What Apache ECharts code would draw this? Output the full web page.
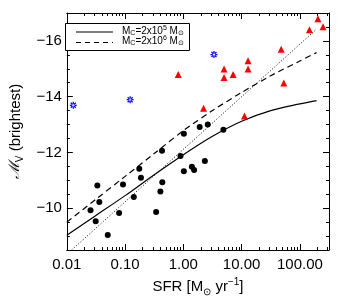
<!DOCTYPE html>
<html>
<head>
<meta charset="utf-8">
<script src="https://cdn.jsdelivr.net/npm/echarts@6/dist/echarts.min.js"></script>
<style>html,body{margin:0;padding:0;background:#fff}#c{width:354px;height:304px}</style>
</head>
<body>
<div id="c"></div>
<script>
// ---- data ----
const circleX = [0.0255,0.0313,0.0334,0.0361,0.0504,0.0789,0.092,0.141,0.175,0.187,0.341,0.403,0.435,0.430,0.893,1.02,1.02,1.40,1.53,1.905,2.34,2.62,4.86];
const circleY = [-9.93,-9.53,-10.81,-10.22,-9.04,-9.83,-10.85,-10.40,-11.41,-11.09,-9.86,-10.60,-10.93,-12.06,-11.87,-12.67,-11.32,-11.49,-11.37,-12.91,-11.69,-13.0,-12.81];
const triX = [0.817,2.22,4.99,4.99,7.14,11.2,12.9,12.9,47.8,53,146,204,250];
const triY = [-14.79,-13.58,-14.99,-14.69,-14.79,-13.31,-15.29,-14.99,-15.70,-14.49,-16.40,-16.79,-16.51];
const starX = [0.0129,0.122,3.35];
const starY = [-13.69,-13.89,-15.51];
const curveX = [0.01,0.0316,0.1,0.316,1,3.16,10,31.6,100,193];
const solidY = [-9.03,-9.74,-10.45,-11.20,-11.92,-12.58,-13.12,-13.50,-13.74,-13.86];
const dashedY = [-9.50,-10.32,-11.14,-11.96,-12.78,-13.50,-14.15,-14.75,-15.28,-15.58];
const dottedX = [0.0121,193];
const dottedY = [-8.5,-16.42];
const xTickLabels = ['0.01','0.10','1.00','10.00','100.00'];
const yTickLabels = ['−16','−14','−12','−10'];
const legendLabels = ['{n|M}{b|C}{n|=2x10}{t|5}{n| M}{b|⊙}', '{n|M}{b|C}{n|=2x10}{t|6}{n| M}{b|⊙}'];

const zip = (a, b) => a.map((v, i) => [v, b[i]]);
const FONT = "'Liberation Sans', Arial, Helvetica, sans-serif";

const chart = echarts.init(document.getElementById('c'), null, {renderer: 'canvas'});

const baseX = {
  type: 'log', logBase: 10, min: 0.01, max: 316,
  axisLine: {onZero: false, lineStyle: {color: '#000', width: 1}},
  axisTick: {inside: true, length: 6, lineStyle: {color: '#000', width: 1}},
  minorTick: {show: true, splitNumber: 9, length: 3, lineStyle: {color: '#000', width: 1}},
  splitLine: {show: false}, minorSplitLine: {show: false}
};
const baseY = {
  type: 'value', inverse: true, min: -17, max: -8.5,
  axisLine: {onZero: false, lineStyle: {color: '#000', width: 1}},
  axisTick: {inside: true, length: 6, lineStyle: {color: '#000', width: 1}},
  minorTick: {show: true, splitNumber: 4, length: 3, lineStyle: {color: '#000', width: 1}},
  splitLine: {show: false}
};

const xLabelFor = v => {
  const e = Math.round(Math.log10(v));
  if (Math.abs(Math.log10(v) - e) > 1e-6) return '';
  return xTickLabels[e + 2] || '';
};
const yLabelFor = v => {
  const map = {'-16': 0, '-14': 1, '-12': 2, '-10': 3};
  const k = String(Math.round(v * 1000) / 1000);
  return (k in map) ? yTickLabels[map[k]] : '';
};

const rich = {
  n: {fontSize: 15, fontFamily: FONT, color: '#000', lineHeight: 20},
  b: {fontSize: 10, fontFamily: FONT, color: '#000', lineHeight: 10, verticalAlign: 'bottom'},
  t: {fontSize: 10, fontFamily: FONT, color: '#000', lineHeight: 10, verticalAlign: 'top'},
  m: {fontSize: 15, fontFamily: "'DejaVu Serif', serif", fontStyle: 'italic', color: '#000', lineHeight: 20}
};

const starPath = 'path://M-0.9,-5 L0.9,-5 L0.9,5 L-0.9,5 Z M-5,-0.9 L5,-0.9 L5,0.9 L-5,0.9 Z M-4.2,-2.9 L2.9,4.2 L4.2,2.9 L-2.9,-4.2 Z M2.9,-4.2 L-4.2,2.9 L-2.9,4.2 L4.2,-2.9 Z';

const legendRich = {
  n: {fontSize: 10, fontFamily: FONT, fill: '#000', lineHeight: 12},
  b: {fontSize: 7, fontFamily: FONT, fill: '#000', lineHeight: 6, verticalAlign: 'bottom'},
  t: {fontSize: 7, fontFamily: FONT, fill: '#000', lineHeight: 6, verticalAlign: 'top'}
};

const option = {
  animation: false,
  backgroundColor: '#fff',
  grid: {left: 59, right: 25, top: 13, bottom: 54},
  xAxis: [
    Object.assign({}, baseX, {
      position: 'bottom',
      axisLabel: {show: true, margin: 7, color: '#000', fontSize: 15, fontFamily: FONT, formatter: xLabelFor, showMinLabel: true, showMaxLabel: false},
      name: '{n|SFR [M}{b|⊙}{n| yr}{t|−1}{n|]}',
      nameLocation: 'middle', nameGap: 20,
      nameTextStyle: {rich: rich}
    }),
    Object.assign({}, baseX, {position: 'top', axisLabel: {show: false}})
  ],
  yAxis: [
    Object.assign({}, baseY, {
      position: 'left',
      axisLabel: {show: true, margin: 5, color: '#000', fontSize: 15, fontFamily: FONT, formatter: yLabelFor},
      name: '{m|ℳ}{b|V}{n| (brightest)}',
      nameLocation: 'middle', nameGap: 36, nameRotate: 90,
      nameTextStyle: {rich: rich}
    }),
    Object.assign({}, baseY, {position: 'right', axisLabel: {show: false}})
  ],
  series: [
    {type: 'line', name: 'solid', data: zip(curveX, solidY), symbol: 'none', z: 2, smooth: 0.3,
     lineStyle: {color: '#000', width: 1.2, type: 'solid'}},
    {type: 'line', name: 'dashed', data: zip(curveX, dashedY), symbol: 'none', z: 2, smooth: 0.3,
     lineStyle: {color: '#000', width: 1.2, type: [6, 4]}},
    {type: 'line', name: 'dotted', data: zip(dottedX, dottedY), symbol: 'none', z: 2,
     lineStyle: {color: '#000', width: 1, type: [1, 2]}},
    {type: 'scatter', data: zip(circleX, circleY), symbol: 'circle', symbolSize: 6, z: 3,
     itemStyle: {color: '#000', opacity: 1}},
    {type: 'scatter', data: zip(triX, triY), symbol: 'triangle', symbolSize: 7, z: 3,
     itemStyle: {color: '#ff0000', opacity: 1}},
    {type: 'scatter', data: zip(starX, starY), symbol: starPath, symbolSize: 7, z: 3,
     itemStyle: {color: '#0000ff', opacity: 1}}
  ],
  graphic: [
    {type: 'rect', z: 10, shape: {x: 65.5, y: 23.5, width: 124, height: 27},
     style: {fill: '#fff', stroke: '#000', lineWidth: 1}},
    {type: 'line', z: 11, shape: {x1: 76, y1: 32, x2: 113, y2: 32},
     style: {stroke: '#000', lineWidth: 1.2}},
    {type: 'line', z: 11, shape: {x1: 76, y1: 42.5, x2: 113, y2: 42.5},
     style: {stroke: '#000', lineWidth: 1.2, lineDash: [5, 4]}},
    {type: 'text', z: 11, x: 122, y: 31,
     style: {text: legendLabels[0], verticalAlign: 'middle', align: 'left', rich: legendRich}},
    {type: 'text', z: 11, x: 122, y: 41,
     style: {text: legendLabels[1], verticalAlign: 'middle', align: 'left', rich: legendRich}}
  ]
};
chart.setOption(option);
</script>
</body>
</html>
